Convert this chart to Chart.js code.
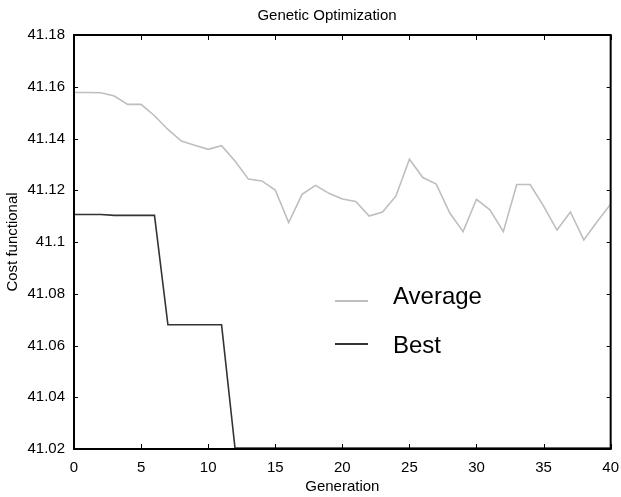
<!DOCTYPE html>
<html>
<head>
<meta charset="utf-8">
<script src="https://cdn.jsdelivr.net/npm/chart.js@4/dist/chart.umd.min.js"></script>
<style>
  html, body { margin: 0; padding: 0; background: #fff; }
  #wrap { width: 621px; height: 497px; }
</style>
</head>
<body>
<div id="wrap"><canvas id="gaChart"></canvas></div>
<script>
// Generations 0..40
const generations = [0,1,2,3,4,5,6,7,8,9,10,11,12,13,14,15,16,17,18,19,20,
  21,22,23,24,25,26,27,28,29,30,31,32,33,34,35,36,37,38,39,40];

// Average cost per generation
const averageCost = [41.1578, 41.1578, 41.1577, 41.1564, 41.1532, 41.1532, 41.1488,
  41.1435, 41.1390, 41.1374, 41.1358, 41.1372, 41.1313, 41.1243, 41.1236, 41.1201,
  41.1075, 41.1184, 41.1219, 41.1188, 41.1166, 41.1157, 41.1100, 41.1116, 41.1178,
  41.1320, 41.1249, 41.1224, 41.1113, 41.1040, 41.1165, 41.1124, 41.1040, 41.1222,
  41.1222, 41.1139, 41.1046, 41.1116, 41.1008, 41.1079, 41.1146];

// Best cost per generation
const bestCost = [41.1106, 41.1106, 41.1106, 41.1103, 41.1103, 41.1103, 41.1103,
  41.0680, 41.0680, 41.0680, 41.0680, 41.0680, 41.0204, 41.0204, 41.0204, 41.0204,
  41.0204, 41.0204, 41.0204, 41.0204, 41.0204, 41.0204, 41.0204, 41.0204, 41.0204,
  41.0204, 41.0204, 41.0204, 41.0204, 41.0204, 41.0204, 41.0204, 41.0204, 41.0204,
  41.0204, 41.0204, 41.0204, 41.0204, 41.0204, 41.0204, 41.0204];

const seriesLabels = ['Average', 'Best'];
const chartTitle = 'Genetic Optimization';
const xTickStep = 5;
const yTickStep = 0.02;

const FONT = 'Liberation Sans, Arial, Helvetica, sans-serif';

function toPoints(ys) {
  return generations.map((g, i) => ({ x: g, y: ys[i] }));
}

// title, frame, inward ticks and the in-plot legend
const framePlugin = {
  id: 'frame',
  afterDraw(chart) {
    const { ctx, chartArea: a, scales } = chart;
    ctx.save();

    ctx.fillStyle = '#000';
    ctx.font = '15px ' + FONT;
    ctx.textAlign = 'center';
    ctx.textBaseline = 'alphabetic';
    ctx.fillText(chartTitle, 327, 20);

    ctx.strokeStyle = '#000';
    ctx.lineWidth = 1;
    const tick = 5;
    scales.x.ticks.forEach(t => {
      const px = Math.round(scales.x.getPixelForValue(t.value)) + 0.5;
      ctx.beginPath();
      ctx.moveTo(px, a.bottom); ctx.lineTo(px, a.bottom - tick);
      ctx.moveTo(px, a.top); ctx.lineTo(px, a.top + tick);
      ctx.stroke();
    });
    scales.y.ticks.forEach(t => {
      const py = Math.round(scales.y.getPixelForValue(t.value)) + 0.5;
      ctx.beginPath();
      ctx.moveTo(a.left, py); ctx.lineTo(a.left + tick - 1, py);
      ctx.moveTo(a.right, py); ctx.lineTo(a.right - tick + 1, py);
      ctx.stroke();
    });
    ctx.lineWidth = 2;
    ctx.strokeRect(a.left, a.top, a.right - a.left, a.bottom - a.top);

    // legend
    const lx = a.left + 261;
    const lineY = [a.top + 266, a.top + 309];
    const textY = [a.top + 269, a.top + 318];
    ctx.font = '24px ' + FONT;
    ctx.textAlign = 'left';
    chart.data.datasets.forEach((ds, i) => {
      ctx.strokeStyle = ds.borderColor;
      ctx.lineWidth = 2;
      ctx.beginPath();
      ctx.moveTo(lx, lineY[i]); ctx.lineTo(lx + 33, lineY[i]);
      ctx.stroke();
      ctx.fillStyle = '#000';
      ctx.fillText(ds.label, lx + 58, textY[i]);
    });
    ctx.restore();
  }
};

const ctx = document.getElementById('gaChart').getContext('2d');
const gaChart = new Chart(ctx, {
  type: 'line',
  data: {
    datasets: [{
      label: seriesLabels[0],
      data: toPoints(averageCost),
      borderColor: '#bebebe',
      borderWidth: 1.6,
      pointRadius: 0,
      tension: 0
    }, {
      label: seriesLabels[1],
      data: toPoints(bestCost),
      borderColor: '#333333',
      borderWidth: 1.6,
      pointRadius: 0,
      tension: 0
    }]
  },
  options: {
    responsive: true,
    maintainAspectRatio: false,
    animation: false,
    layout: { padding: { left: 0, right: 4, top: 35, bottom: 0 } },
    plugins: {
      legend: { display: false },
      tooltip: { enabled: false },
      title: { display: false }
    },
    scales: {
      x: {
        type: 'linear',
        min: 0,
        max: 40,
        afterFit: s => { s.height = 48; },
        ticks: {
          stepSize: xTickStep,
          color: '#000',
          font: { family: FONT, size: 15 },
          padding: 2,
          maxRotation: 0
        },
        grid: { display: false },
        border: { display: false },
        title: {
          display: true,
          text: 'Generation',
          color: '#000',
          font: { family: FONT, size: 15 },
          padding: { top: 0, bottom: 1 }
        }
      },
      y: {
        min: 41.02,
        max: 41.18,
        afterFit: s => { s.width = 74; },
        ticks: {
          stepSize: yTickStep,
          color: '#000',
          font: { family: FONT, size: 15 },
          padding: 1,
          callback: v => parseFloat(v.toFixed(2)).toString()
        },
        grid: { display: false },
        border: { display: false },
        title: {
          display: true,
          text: 'Cost functional',
          color: '#000',
          font: { family: FONT, size: 15 },
          padding: { top: 4, bottom: 0 }
        }
      }
    }
  },
  plugins: [framePlugin]
});
</script>
</body>
</html>
